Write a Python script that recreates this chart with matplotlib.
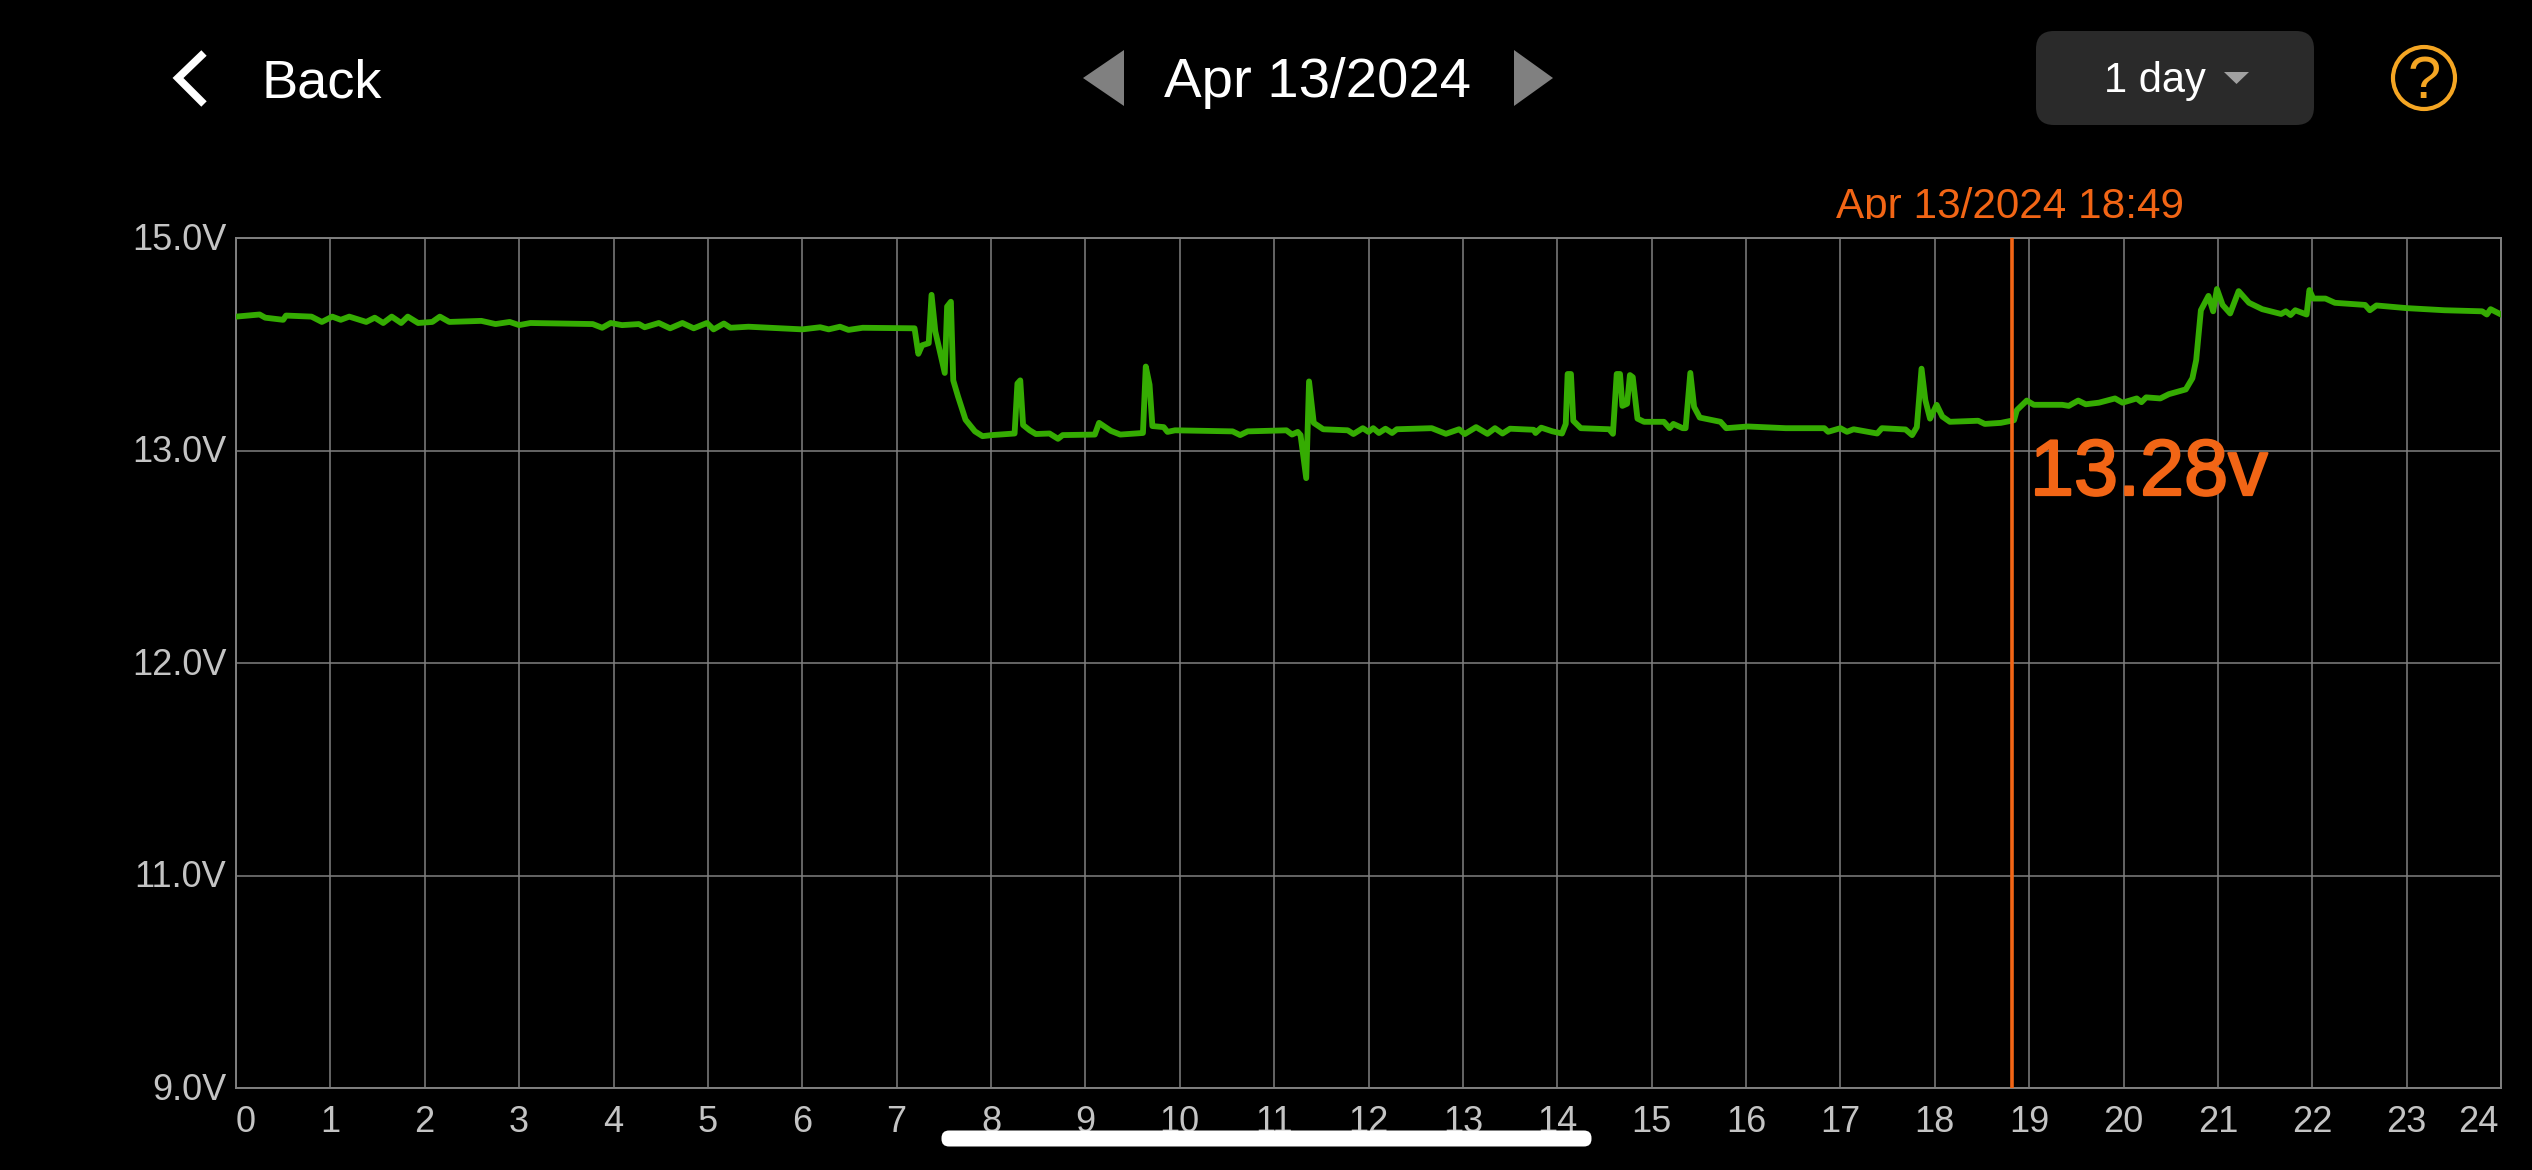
import matplotlib
matplotlib.use("Agg")
import matplotlib.pyplot as plt
import matplotlib.patheffects as pe
import numpy as np
from matplotlib.patches import Circle, FancyBboxPatch, Polygon
from matplotlib.transforms import Bbox, ScaledTranslation

plt.rcParams['font.family'] = ['Liberation Sans', 'DejaVu Sans']

# Voltage trace
hours = [0.00, 0.12, 0.25, 0.31, 0.50, 0.53, 0.80, 0.91, 1.02, 1.11, 1.20, 1.38, 1.47, 1.56, 1.65, 1.75, 1.82,
         1.93, 2.08, 2.16, 2.26, 2.60, 2.75, 2.90, 3.00, 3.12, 3.78, 3.88, 3.97, 4.09, 4.27, 4.33, 4.48, 4.60,
         4.73, 4.85, 4.99, 5.06, 5.17, 5.24, 5.43, 6.00, 6.19, 6.28, 6.40, 6.49, 6.64, 7.19, 7.23, 7.27, 7.34,
         7.37, 7.41, 7.51, 7.535, 7.575, 7.60, 7.65, 7.73, 7.83, 7.91, 8.01, 8.25, 8.28, 8.31, 8.34, 8.41,
         8.475, 8.62, 8.71, 8.76, 9.10, 9.145, 9.27, 9.37, 9.61, 9.64, 9.68, 9.71, 9.83, 9.87, 9.95, 10.56,
         10.64, 10.72, 11.13, 11.19, 11.25, 11.28, 11.34, 11.37, 11.42, 11.52, 11.78, 11.84, 11.94, 12.00,
         12.05, 12.11, 12.18, 12.25, 12.30, 12.67, 12.82, 12.96, 13.02, 13.14, 13.26, 13.34, 13.42, 13.50,
         13.75, 13.77, 13.83, 13.95, 14.05, 14.09, 14.11, 14.145, 14.17, 14.25, 14.55, 14.59, 14.63, 14.665,
         14.69, 14.74, 14.77, 14.80, 14.85, 14.92, 15.13, 15.19, 15.23, 15.33, 15.36, 15.41, 15.45, 15.51,
         15.73, 15.79, 16.02, 16.42, 16.83, 16.87, 17.00, 17.07, 17.14, 17.39, 17.44, 17.69, 17.76, 17.81,
         17.86, 17.90, 17.95, 18.02, 18.08, 18.16, 18.46, 18.53, 18.70, 18.84, 18.87, 18.975, 19.05, 19.35,
         19.42, 19.52, 19.60, 19.74, 19.91, 19.99, 20.14, 20.19, 20.24, 20.39, 20.48, 20.66, 20.73, 20.77,
         20.82, 20.90, 20.95, 20.99, 21.05, 21.13, 21.22, 21.33, 21.47, 21.67, 21.72, 21.77, 21.82, 21.94,
         21.97, 22.01, 22.14, 22.24, 22.56, 22.61, 22.68, 23.00, 23.40, 23.80, 23.85, 23.89, 24.00]
volts = [14.26, 14.27, 14.28, 14.25, 14.23, 14.27, 14.26, 14.21, 14.26, 14.23, 14.26, 14.21, 14.25, 14.20, 14.26,
         14.20, 14.26, 14.20, 14.21, 14.26, 14.21, 14.22, 14.19, 14.21, 14.18, 14.20, 14.19, 14.155, 14.20,
         14.18, 14.19, 14.16, 14.20, 14.15, 14.20, 14.15, 14.20, 14.14, 14.195, 14.155, 14.165, 14.14, 14.16,
         14.14, 14.165, 14.135, 14.155, 14.15, 13.91, 13.99, 14.01, 14.465, 14.12, 13.73, 14.355, 14.40, 13.66,
         13.51, 13.29, 13.18, 13.135, 13.145, 13.16, 13.63, 13.66, 13.24, 13.19, 13.155, 13.16, 13.11, 13.145,
         13.15, 13.26, 13.185, 13.15, 13.165, 13.79, 13.62, 13.23, 13.22, 13.175, 13.19, 13.18, 13.145, 13.18,
         13.19, 13.15, 13.175, 13.145, 12.87, 13.65, 13.26, 13.20, 13.19, 13.155, 13.21, 13.175, 13.21, 13.165,
         13.205, 13.165, 13.20, 13.21, 13.157, 13.20, 13.155, 13.22, 13.157, 13.21, 13.16, 13.205, 13.195,
         13.165, 13.215, 13.18, 13.16, 13.25, 13.72, 13.72, 13.28, 13.21, 13.20, 13.157, 13.72, 13.72, 13.42,
         13.44, 13.71, 13.69, 13.30, 13.27, 13.27, 13.21, 13.25, 13.21, 13.21, 13.73, 13.41, 13.31, 13.27,
         13.21, 13.226, 13.21, 13.21, 13.176, 13.21, 13.176, 13.20, 13.16, 13.21, 13.198, 13.145, 13.22, 13.77,
         13.475, 13.30, 13.43, 13.32, 13.27, 13.28, 13.25, 13.26, 13.285, 13.38, 13.47, 13.43, 13.43, 13.42,
         13.47, 13.435, 13.45, 13.49, 13.45, 13.49, 13.455, 13.50, 13.49, 13.53, 13.575, 13.68, 13.85, 14.32,
         14.455, 14.31, 14.52, 14.37, 14.29, 14.50, 14.39, 14.33, 14.285, 14.31, 14.275, 14.32, 14.28, 14.51,
         14.43, 14.43, 14.39, 14.37, 14.32, 14.365, 14.34, 14.32, 14.31, 14.28, 14.33, 14.28]

y_levels = [9, 11, 12, 13, 15]
y_labels = ['9.0V', '11.0V', '12.0V', '13.0V', '15.0V']
x_ticks = list(range(25))
cursor_hour = 18 + 49 / 60
cursor_time = 'Apr 13/2024 18:49'
cursor_value = '13.28v'
date_label = 'Apr 13/2024'
range_label = '1 day'

W, H = 2532, 1170
GREY = '#808080'
ORANGE = '#F26515'
LABEL = '#c4c4c4'

fig = plt.figure(figsize=(W / 100, H / 100), dpi=100, facecolor='black')

# plot box is 236..2501 across, 238..1088 down, in pixels
ax = fig.add_axes([236 / W, 1 - 1088 / H, (2501 - 236) / W, (1088 - 238) / H], facecolor='black')


# the y axis gives each label the same height, whatever the volt step is
def to_pos(v):
    return np.interp(v, y_levels, range(len(y_levels)))


def from_pos(p):
    return np.interp(p, range(len(y_levels)), y_levels)


ax.set_yscale('function', functions=(to_pos, from_pos))
ax.plot(hours, volts, color='#35AC02', lw=4.2, solid_joinstyle='round', zorder=3)
ax.axvline(cursor_hour, color=ORANGE, lw=2.6, zorder=4)
ax.set_xlim(0, 24)
ax.set_ylim(9, 15)
ax.set_xticks(x_ticks)
ax.set_xticklabels([str(t) for t in x_ticks])
ax.set_yticks(y_levels)
ax.set_yticklabels(y_labels)
ax.minorticks_off()
ax.grid(True, color=GREY, lw=1.1, zorder=1)
ax.set_axisbelow(True)
ax.tick_params(length=0, labelsize=26, labelcolor=LABEL)
ax.tick_params(axis='x', pad=12)
ax.tick_params(axis='y', pad=7)
for side, sp in ax.spines.items():
    sp.set_color(GREY)
    sp.set_linewidth(1.4)
xt = ax.get_xticklabels()
xt[0].set_ha('left')
xt[-1].set_ha('right')
xt[-1].set_transform(xt[-1].get_transform() + ScaledTranslation(-3 / 100, 0, fig.dpi_scale_trans))
for lab in ax.get_yticklabels():
    lab.set_transform(lab.get_transform() + ScaledTranslation(0, 2 / 100, fig.dpi_scale_trans))

ax_ui = fig.add_axes([0, 0, 1, 1], facecolor='none')
ax_ui.set_xlim(0, W)
ax_ui.set_ylim(H, 0)
ax_ui.axis('off')

# value and time next to the cursor; the time is cut off just under its baseline
ax_ui.text(2030, 495, cursor_value, color=ORANGE, fontsize=57, ha='left', va='baseline',
           path_effects=[pe.withStroke(linewidth=1.6, foreground=ORANGE)])
t = ax_ui.text(2010, 218, cursor_time, color=ORANGE, fontsize=30.4, ha='center', va='baseline')
t.set_clip_on(True)
t.set_clip_box(Bbox([[1800, H - 219], [2300, H - 170]]))

# app header
ax_ui.plot([204, 178, 204], [53, 78, 104], color='white', lw=5.5, solid_joinstyle='miter', solid_capstyle='butt')
ax_ui.text(262, 97, 'Back', color='white', fontsize=39, ha='left', va='baseline')
ax_ui.add_patch(Polygon([(1083, 78), (1124, 50), (1124, 106)], color=GREY, lw=0))
ax_ui.add_patch(Polygon([(1553, 78), (1514, 50), (1514, 106)], color=GREY, lw=0))
ax_ui.text(1317, 97, date_label, color='white', fontsize=40.6, ha='center', va='baseline')
ax_ui.add_patch(FancyBboxPatch((2054, 49), 242, 58, boxstyle='round,pad=18,rounding_size=18', lw=0, fc='#2a2a2a'))
ax_ui.text(2104, 92, range_label, color='white', fontsize=30, ha='left', va='baseline')
ax_ui.add_patch(Polygon([(2224, 72), (2249, 72), (2236.5, 84)], color='#a0a0a0', lw=0))
ax_ui.add_patch(Circle((2424, 78), 31, fill=False, ec='#F5A623', lw=3))
ax_ui.text(2424, 98, '?', color='#F5A623', fontsize=43, ha='center', va='baseline')

# home bar
ax_ui.add_patch(FancyBboxPatch((949, 1138), 635, 1, boxstyle='round,pad=7.5,rounding_size=7.5', lw=0, fc='white'))

fig.savefig('out.png', dpi=100, facecolor='black')
